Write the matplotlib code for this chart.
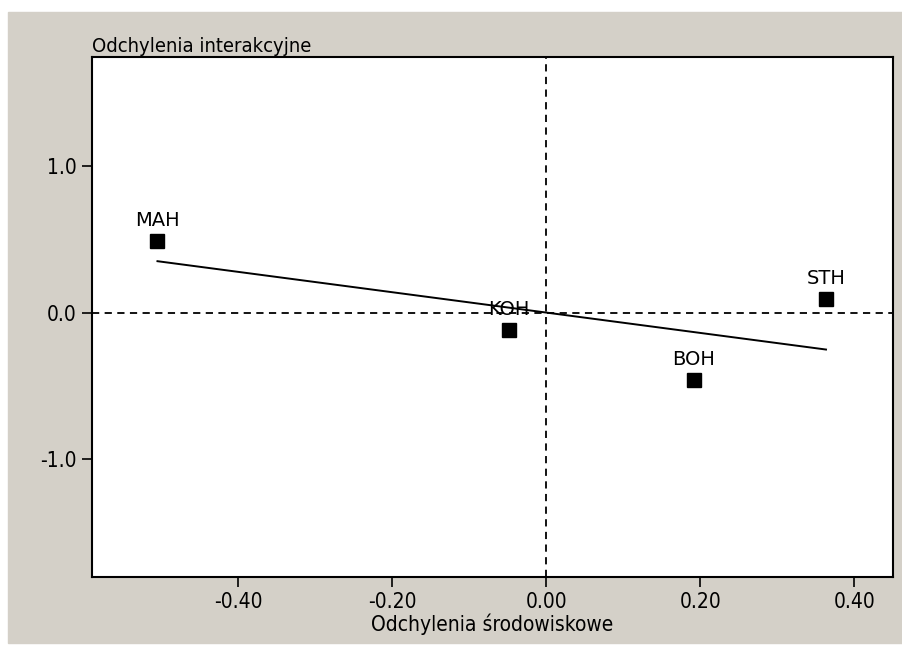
import numpy as np
import matplotlib
matplotlib.use('Agg')
from matplotlib import pyplot as plt
from matplotlib.patches import Rectangle
from matplotlib import font_manager

# narrow sans if available
names_avail = {f.name for f in font_manager.fontManager.ttflist}
fams = [f for f in ['Liberation Sans Narrow', 'DejaVu Sans'] if f in names_avail]
plt.rcParams['font.family'] = fams
plt.rcParams['font.stretch'] = 'condensed'

# data
names = ['MAH', 'KOH', 'BOH', 'STH']
env_dev = [-0.505, -0.049, 0.191, 0.363]      # Odchylenia środowiskowe
inter_dev = [0.49, -0.12, -0.46, 0.095]       # Odchylenia interakcyjne

x = np.array(env_dev)
y = np.array(inter_dev)

# regression through the origin
b = np.sum(x * y) / np.sum(x * x)

fig = plt.figure(figsize=(9.03, 6.45), dpi=100, facecolor='white')
# grey window background
fig.patches.append(Rectangle((8 / 903, 2 / 645), 1.1, (643 - 12) / 645,
                             transform=fig.transFigure, color='#d4d0c8', zorder=-1))

ax = fig.add_axes([92 / 903, 1 - 577 / 645, (893 - 92) / 903, (577 - 57) / 645])
ax.set_facecolor('white')

ax.axhline(0, color='black', linestyle=(0, (4, 3)), linewidth=1.3)
ax.axvline(0, color='black', linestyle=(0, (4, 3)), linewidth=1.3)

xs = np.array([x.min(), x.max()])
ax.plot(xs, b * xs, color='black', linewidth=1.4)

ax.plot(x, y, linestyle='', marker='s', markersize=10, color='black')
for n, xi, yi in zip(names, x, y):
    ax.annotate(n, (xi, yi), xytext=(0, 8), textcoords='offset points',
                ha='center', va='bottom', fontsize=14, fontstretch='normal')

ax.set_xlim(-0.59, 0.45)
ax.set_ylim(-1.8, 1.74)
ax.set_xticks([-0.4, -0.2, 0.0, 0.2, 0.4])
ax.set_xticklabels(['-0.40', '-0.20', '0.00', '0.20', '0.40'])
ax.set_yticks([-1.0, 0.0, 1.0])
ax.set_yticklabels(['-1.0', '0.0', '1.0'])
ax.tick_params(direction='out', length=7, width=1.2, labelsize=15, pad=4)
for s in ax.spines.values():
    s.set_linewidth(1.5)

ax.set_xlabel('Odchylenia środowiskowe', fontsize=15, labelpad=1)
fig.text(92 / 903, 1 - 47 / 645, 'Odchylenia interakcyjne', fontsize=14.5,
         ha='left', va='center')

fig.savefig('out.png', dpi=100, facecolor=fig.get_facecolor())
